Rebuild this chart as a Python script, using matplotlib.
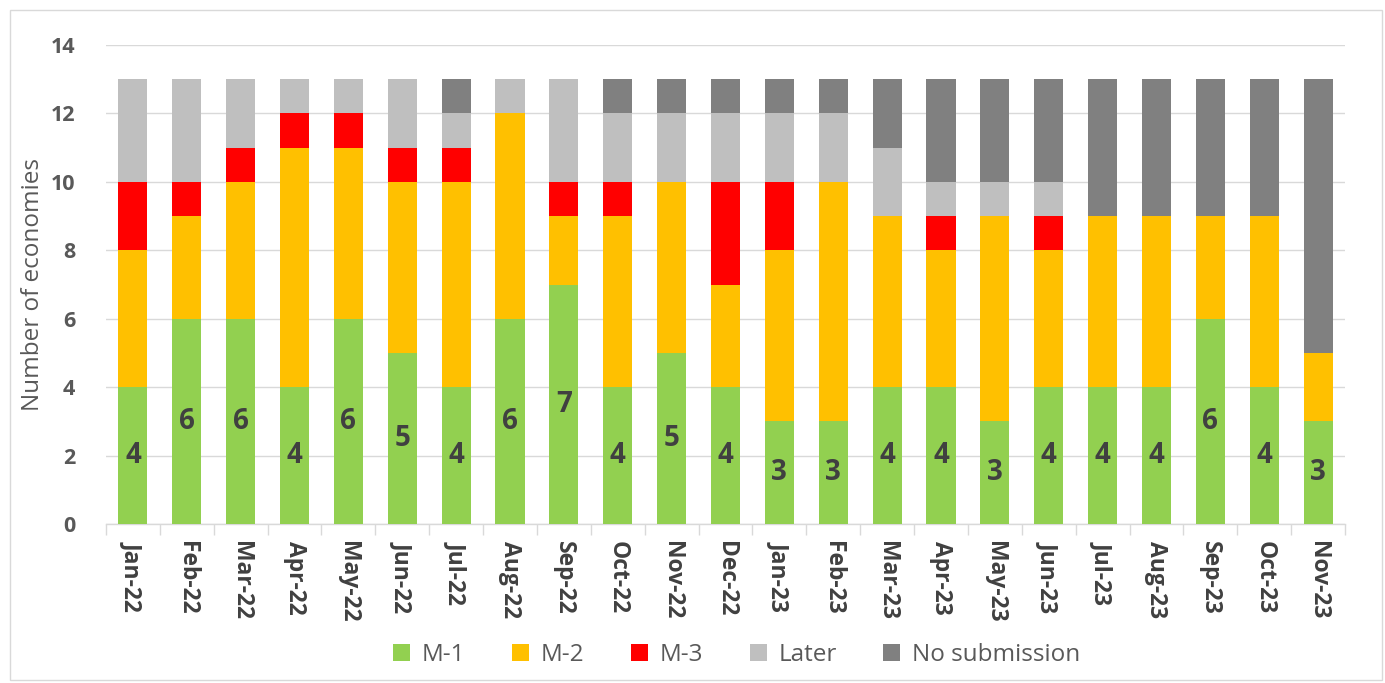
import matplotlib
matplotlib.use("Agg")
import matplotlib.pyplot as plt
import numpy as np
from matplotlib.patches import Rectangle, Patch

plt.rcParams['font.family'] = ['Open Sans', 'DejaVu Sans']

months = ["Jan-22", "Feb-22", "Mar-22", "Apr-22", "May-22", "Jun-22", "Jul-22", "Aug-22",
          "Sep-22", "Oct-22", "Nov-22", "Dec-22", "Jan-23", "Feb-23", "Mar-23", "Apr-23",
          "May-23", "Jun-23", "Jul-23", "Aug-23", "Sep-23", "Oct-23", "Nov-23"]
m1 =    [4, 6, 6, 4, 6, 5, 4, 6, 7, 4, 5, 4, 3, 3, 4, 4, 3, 4, 4, 4, 6, 4, 3]
m2 =    [4, 3, 4, 7, 5, 5, 6, 6, 2, 5, 5, 3, 5, 7, 5, 4, 6, 4, 5, 5, 3, 5, 2]
m3 =    [2, 1, 1, 1, 1, 1, 1, 0, 1, 1, 0, 3, 2, 0, 0, 1, 0, 1, 0, 0, 0, 0, 0]
later = [3, 3, 2, 1, 1, 2, 1, 1, 3, 2, 2, 2, 2, 2, 2, 1, 1, 1, 0, 0, 0, 0, 0]
nosub = [0, 0, 0, 0, 0, 0, 1, 0, 0, 1, 1, 1, 1, 1, 2, 3, 3, 3, 4, 4, 4, 4, 8]

series = [("M-1", m1, "#92D050"), ("M-2", m2, "#FFC000"), ("M-3", m3, "#FF0000"),
          ("Later", later, "#BFBFBF"), ("No submission", nosub, "#808080")]

fig = plt.figure(figsize=(13.85, 6.83), dpi=100)
ax = fig.add_axes([106/1385, 1-524/683, (1345-106)/1385, (524-45)/683])

x = np.arange(len(months))
bottom = np.zeros(len(months))
handles = []
for name, vals, col in series:
    v = np.array(vals, dtype=float)
    ax.bar(x, v, bottom=bottom, width=0.54, color=col, zorder=3)
    bottom += v
    handles.append(Patch(facecolor=col, label=name))

for xi, v in zip(x, m1):
    ax.text(xi, v/2, str(v), ha='center', va='center', fontsize=20,
            fontweight='bold', color='#404040', zorder=4)

ax.set_ylim(0, 14)
ax.set_xlim(-0.5, len(months)-0.5)
ax.set_yticks(np.arange(0, 15, 2))
ax.grid(axis='y', color='#D9D9D9', linewidth=1, zorder=0)
for s in ['left', 'top', 'right']:
    ax.spines[s].set_visible(False)
ax.spines['bottom'].set_color('#D9D9D9')
ax.spines['bottom'].set_linewidth(1)
ax.set_xticks(x)
ax.set_xticklabels(months, rotation=-90, fontsize=16.5, fontweight='bold', color='#404040')
ax.set_xticks(np.arange(-0.5, len(months), 1), minor=True)
ax.tick_params(axis='x', which='major', length=0, pad=12)
ax.tick_params(axis='x', which='minor', length=8, color='#D9D9D9', width=1)
ax.tick_params(axis='y', length=0, labelsize=15.5, labelcolor='#595959', pad=22)
for lbl in ax.get_yticklabels():
    lbl.set_fontweight('bold')
ax.set_ylabel("Number of economies", fontsize=17.5, color='#595959', labelpad=4)

fig.legend(handles=handles, loc='lower center', bbox_to_anchor=(0.532, -0.008), ncol=5,
           frameon=False, fontsize=17.5, handlelength=0.7, handleheight=0.7,
           columnspacing=1.9, handletextpad=0.5, labelcolor='#595959')

fig.patches.append(Rectangle((10/1385, 3/683), 1372/1385, 670/683, transform=fig.transFigure,
                             fill=False, edgecolor='#D9D9D9', linewidth=1))

fig.savefig("out.png", dpi=100)
